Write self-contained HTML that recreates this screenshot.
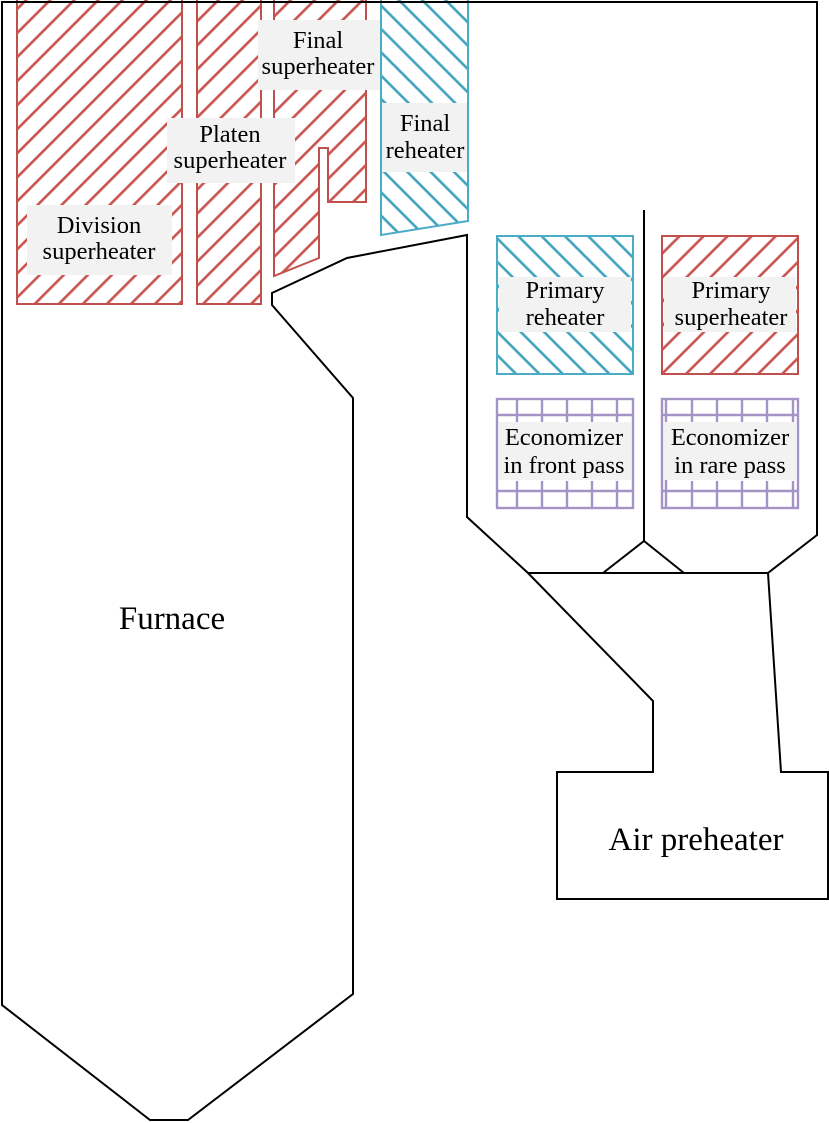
<!DOCTYPE html>
<html>
<head>
<meta charset="utf-8">
<style>
html,body{margin:0;padding:0;background:#fff;}
svg{display:block;}
text{font-family:"Liberation Serif","DejaVu Serif",serif;fill:#000;}
</style>
</head>
<body>
<svg width="829" height="1123" viewBox="0 0 829 1123" xmlns="http://www.w3.org/2000/svg">
<defs>
  <pattern id="hr" width="17" height="17" patternUnits="userSpaceOnUse" patternTransform="rotate(45)">
    <line x1="1.5" y1="0" x2="1.5" y2="17" stroke="#c9524c" stroke-width="2.6"/>
  </pattern>
  <pattern id="hb" width="16.5" height="16.5" patternUnits="userSpaceOnUse" patternTransform="rotate(-45)">
    <line x1="1.5" y1="0" x2="1.5" y2="16.5" stroke="#3fa3bd" stroke-width="2.6"/>
  </pattern>
</defs>

<!-- Red superheater blocks -->
<rect x="17" y="-5" width="165" height="309" fill="url(#hr)" stroke="#c0504d" stroke-width="2"/>
<rect x="197" y="-5" width="64" height="309" fill="url(#hr)" stroke="#c0504d" stroke-width="2"/>
<polygon points="274,-5 274,276 319,258 319,148 328,148 328,202 366,202 366,-5" fill="url(#hr)" stroke="#c0504d" stroke-width="2"/>

<!-- Final reheater (blue) -->
<polygon points="381,-5 381,235 468,221 468,-5" fill="url(#hb)" stroke="#4bacc6" stroke-width="2"/>

<!-- Primary reheater / superheater -->
<rect x="497" y="236" width="136" height="138" fill="url(#hb)" stroke="#4bacc6" stroke-width="2"/>
<rect x="662" y="236" width="136" height="138" fill="url(#hr)" stroke="#c0504d" stroke-width="2"/>

<!-- Economizers -->
<g stroke="#a494c6" stroke-width="2.4" fill="none">
  <rect x="497" y="399" width="136" height="109"/>
  <line x1="497" y1="415" x2="633" y2="415"/>
  <line x1="497" y1="491" x2="633" y2="491"/>
  <path d="M517 399V422M542 399V422M567 399V422M592 399V422M617 399V422M517 481V508M542 481V508M567 481V508M592 481V508M617 481V508"/>
  <rect x="662" y="399" width="136" height="109"/>
  <line x1="662" y1="415" x2="798" y2="415"/>
  <line x1="662" y1="491" x2="798" y2="491"/>
  <path d="M666 399V508M692 399V422M717 399V422M742 399V422M767 399V422M793 399V422M692 481V508M717 481V508M742 481V508M767 481V508M793 481V508"/>
</g>

<!-- Label backgrounds -->
<g fill="#f2f2f2">
  <rect x="258" y="20" width="122" height="70"/>
  <rect x="167" y="118" width="128" height="65"/>
  <rect x="27" y="205" width="145" height="70"/>
  <rect x="382" y="103" width="85" height="69"/>
  <rect x="499" y="277" width="132" height="55"/>
  <rect x="664" y="277" width="132" height="55"/>
  <rect x="499" y="422" width="132" height="58"/>
  <rect x="664" y="422" width="132" height="58"/>
</g>

<!-- Black outline -->
<g stroke="#000" stroke-width="2" fill="none" stroke-linejoin="miter">
  <polyline points="2,1 2,1005 150,1120 188,1120 353,994 353,398 272,305 272,293 347,258 467,235 467,517 528,573 653,701 653,772 557,772 557,899 828,899 828,772 781,772 768,573 817,535 817,2 1,2"/>
  <line x1="528" y1="573" x2="768" y2="573"/>
  <polyline points="603,573 644,541 684,573"/>
  <line x1="644" y1="210" x2="644" y2="541"/>
</g>

<!-- Labels -->
<g font-size="24.5" text-anchor="middle">
  <text x="318" y="48">Final</text>
  <text x="318" y="74">superheater</text>
  <text x="230" y="142">Platen</text>
  <text x="230" y="168">superheater</text>
  <text x="99" y="233">Division</text>
  <text x="99" y="259">superheater</text>
  <text x="425" y="131">Final</text>
  <text x="425" y="158">reheater</text>
  <text x="565" y="298">Primary</text>
  <text x="565" y="325">reheater</text>
  <text x="731" y="298">Primary</text>
  <text x="731" y="325">superheater</text>
  <text x="564" y="445">Economizer</text>
  <text x="564" y="473">in front pass</text>
  <text x="730" y="445">Economizer</text>
  <text x="730" y="473">in rare pass</text>
</g>
<text x="172" y="629" font-size="33" text-anchor="middle">Furnace</text>
<text x="696" y="850" font-size="33" text-anchor="middle">Air preheater</text>
</svg>
</body>
</html>
